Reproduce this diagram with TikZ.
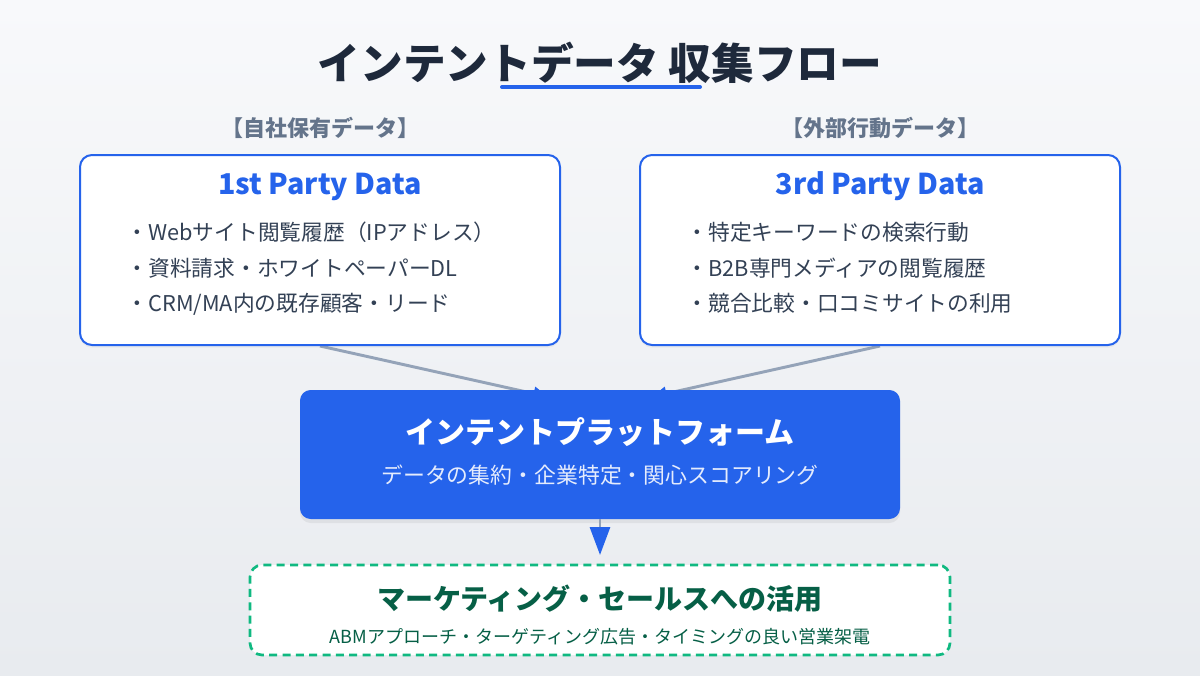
\documentclass[tikz,border=0pt]{standalone}
\usepackage{fontspec}
\setmainfont{Noto Sans CJK JP}
\usetikzlibrary{arrows.meta,shadows,calc}
\usepackage{xcolor}

\definecolor{inkdark}{HTML}{1E293B}
\definecolor{inkgray}{HTML}{64748B}
\definecolor{inkbody}{HTML}{334155}
\definecolor{brandblue}{HTML}{2563EB}
\definecolor{linegray}{HTML}{94A3B8}
\definecolor{leafgreen}{HTML}{10B981}
\definecolor{deepgreen}{HTML}{065F46}
\definecolor{bgtop}{HTML}{F8F9FB}
\definecolor{bgbot}{HTML}{E8EBEF}

\pgfdeclarelayer{canvas}
\pgfdeclarelayer{wires}
\pgfsetlayers{canvas,wires,main}

\begin{document}
\begin{tikzpicture}[x=0.75pt, y=-0.75pt,
  srcbox/.style={draw=brandblue, line width=1.5pt, fill=white, rounded corners=9pt,
    inner sep=0pt, minimum width=360pt, minimum height=142.5pt,
    drop shadow={opacity=0.08, shadow xshift=0pt, shadow yshift=-2pt}},
  hubbox/.style={fill=brandblue, rounded corners=8pt, inner sep=0pt,
    minimum width=450pt, minimum height=96.75pt,
    drop shadow={opacity=0.12, shadow xshift=0pt, shadow yshift=-3pt}},
  usebox/.style={draw=leafgreen, line width=2pt, dash pattern=on 6pt off 4pt,
    fill=white, rounded corners=9pt, inner sep=0pt,
    minimum width=525pt, minimum height=67.5pt},
  feedline/.style={linegray, line width=2.2pt,
    -{Triangle[length=11pt, width=10pt, color=brandblue]}},
  downline/.style={linegray, line width=2.2pt, shorten >=6.5pt,
    -{Triangle[length=21pt, width=15pt, color=brandblue]}},
  srchead/.style={anchor=base, brandblue, font=\fontsize{21.5}{25}\selectfont\bfseries},
  bullet/.style={anchor=base west, inkbody, font=\fontsize{16.3}{20}\selectfont},
  tag/.style={anchor=base, inkgray, font=\fontsize{16.5}{20}\selectfont\bfseries}]

  %% canvas
  \useasboundingbox (0,0) rectangle (1200,675);
  \begin{pgfonlayer}{canvas}
    \shade[top color=bgtop, bottom color=bgbot] (0,0) rectangle (1200,675);
  \end{pgfonlayer}

  %% title with underline
  \node[anchor=base, inkdark, font=\fontsize{32}{38}\selectfont\bfseries] (title) at (600,79)
    {インテントデータ 収集フロー};
  \draw[brandblue, line width=3pt, line cap=round] (502,87) -- (700,87);

  %% source tags
  \node[tag] (tag1) at (320,136) {【自社保有データ】};
  \node[tag] (tag3) at (880,136) {【外部行動データ】};

  %% source boxes
  \node[srcbox] (first) at (320,250) {};
  \node[srcbox] (third) at (880,250) {};

  %% 1st party
  \node[srchead] (firsthead) at (320,194) {1st Party Data};
  \node[bullet] (f1) at (122,240) {・Webサイト閲覧履歴（IPアドレス）};
  \node[bullet] (f2) at (122,276) {・資料請求・ホワイトペーパーDL};
  \node[bullet] (f3) at (122,311) {・CRM/MA内の既存顧客・リード};

  %% 3rd party
  \node[srchead] (thirdhead) at (880,194) {3rd Party Data};
  \node[bullet] (t1) at (682,240) {・特定キーワードの検索行動};
  \node[bullet] (t2) at (682,276) {・B2B専門メディアの閲覧履歴};
  \node[bullet] (t3) at (682,311) {・競合比較・口コミサイトの利用};

  %% platform
  \node[hubbox] (hub) at (600,454.5) {};
  \node[anchor=base, white, font=\fontsize{22.5}{27}\selectfont\bfseries] (hubhead) at (600,443)
    {インテントプラットフォーム};
  \node[anchor=base, white!88!brandblue, font=\fontsize{16.4}{20}\selectfont] (hubsub) at (600,483)
    {データの集約・企業特定・関心スコアリング};

  %% feeds, tucked under the platform
  \coordinate (inL) at ($(hub.north)+(-52,7)$);
  \coordinate (inR) at ($(hub.north)+(52,7)$);
  \begin{pgfonlayer}{wires}
    \draw[feedline] (first.south) -- (inL);
    \draw[feedline] (third.south) -- (inR);
  \end{pgfonlayer}

  %% usage
  \node[usebox] (use) at (600,610) {};
  \draw[downline] (hub.south) -- (use.north);
  \node[anchor=base, deepgreen, font=\fontsize{21}{25}\selectfont\bfseries] (usehead) at (600,609)
    {マーケティング・セールスへの活用};
  \node[anchor=base, deepgreen, font=\fontsize{13.5}{16}\selectfont] (usesub) at (600,643)
    {ABMアプローチ・ターゲティング広告・タイミングの良い営業架電};
\end{tikzpicture}
\end{document}
